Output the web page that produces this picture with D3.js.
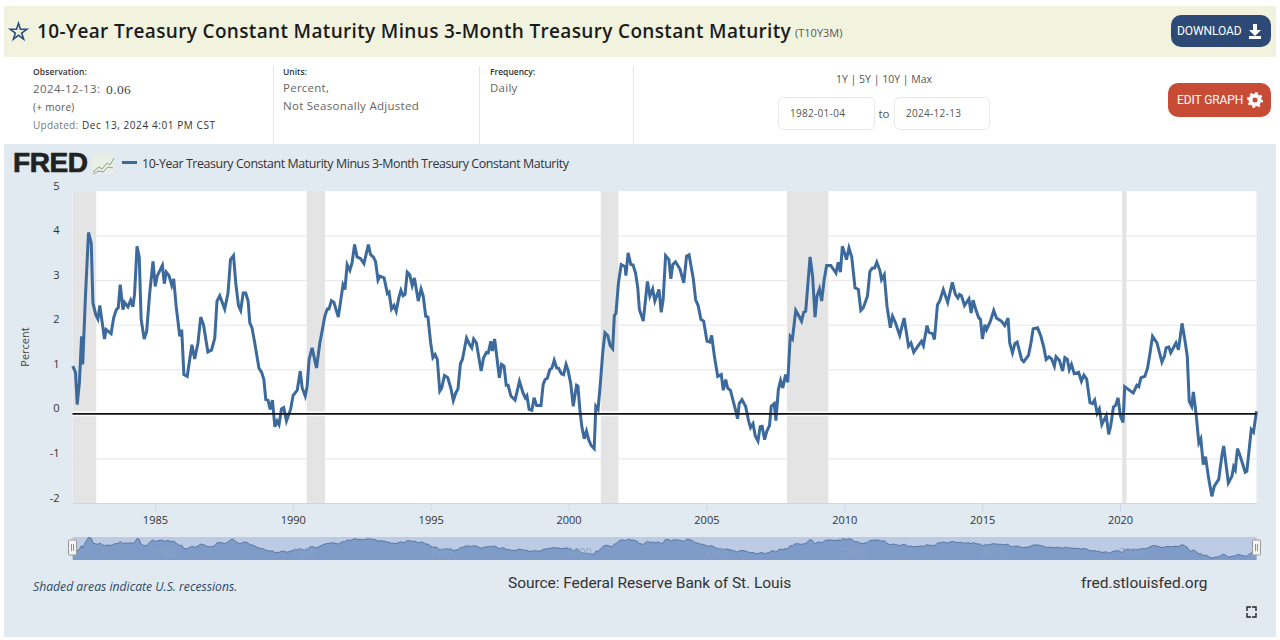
<!DOCTYPE html>
<html>
<head>
<meta charset="utf-8">
<title>T10Y3M</title>
<script src="https://cdn.jsdelivr.net/npm/d3@7"></script>
<style>
  html, body { margin: 0; padding: 0; background: #fff; }
  svg { display: block; font-family: "Open Sans", sans-serif; }
</style>
</head>
<body>
<div id="chart"></div>
<script>
// series, decimal years and percent
const years1982 = [1982.02,1982.12,1982.18,1982.26,1982.34,1982.38,1982.48,1982.59,1982.69,1982.75,1982.85,1982.93,1983.00,1983.09,1983.17,1983.23,1983.41,1983.50,1983.60,1983.67,1983.74,1983.84,1983.90,1984.02,1984.12,1984.20,1984.26,1984.35,1984.43,1984.50,1984.61,1984.70,1984.81,1984.93,1985.01,1985.08,1985.27,1985.34,1985.41,1985.51,1985.61,1985.68,1985.77,1985.90,1985.97,1986.05,1986.17,1986.34,1986.44,1986.56,1986.66,1986.76,1986.92,1987.05,1987.17,1987.25,1987.35,1987.53,1987.65,1987.74,1987.85,1987.93,1988.03,1988.11,1988.20,1988.29,1988.38,1988.44,1988.52,1988.62,1988.77,1988.87,1988.95,1989.02,1989.10,1989.18,1989.26,1989.35,1989.43,1989.50,1989.59,1989.67,1989.77,1989.92,1990.01,1990.16,1990.27,1990.34,1990.45,1990.52,1990.59,1990.70,1990.86,1990.98]
const values1982 = [1.07,0.93,0.21,0.70,1.74,1.11,2.64,4.07,3.83,2.49,2.23,2.13,2.43,2.04,1.68,1.89,1.80,2.15,2.34,2.38,2.90,2.34,2.50,2.40,2.55,2.40,2.68,3.76,3.52,2.12,1.68,1.85,2.71,3.42,2.86,3.09,3.33,2.92,3.18,3.10,2.88,3.03,2.41,1.74,1.89,0.88,0.84,1.55,1.23,1.59,2.17,2.00,1.39,1.43,1.70,2.53,2.65,2.35,2.71,3.46,3.55,2.94,2.43,2.32,2.71,2.71,2.53,2.04,1.93,1.59,1.03,0.93,0.77,0.32,0.31,0.10,0.31,-0.29,-0.16,-0.24,0.11,0.14,-0.16,0.10,0.41,0.53,0.96,0.58,0.40,0.62,1.22,1.48,1.03,1.59]

const years1991 = [1991.04,1991.16,1991.25,1991.31,1991.40,1991.49,1991.65,1991.77,1991.82,1991.89,1991.97,1992.07,1992.15,1992.24,1992.33,1992.46,1992.58,1992.74,1992.82,1992.92,1993.00,1993.09,1993.16,1993.31,1993.43,1993.49,1993.58,1993.67,1993.75,1993.85,1993.92,1994.00,1994.07,1994.15,1994.24,1994.33,1994.41,1994.55,1994.65,1994.73,1994.82,1994.90,1995.00,1995.08,1995.16,1995.24,1995.33,1995.40,1995.50,1995.62,1995.73,1995.82,1995.91,1995.99,1996.08,1996.15,1996.30,1996.39,1996.49,1996.56,1996.66,1996.83,1996.92,1997.02,1997.09,1997.18,1997.24,1997.32,1997.49,1997.57,1997.66,1997.74,1997.81,1997.91,1998.06,1998.22,1998.35,1998.43,1998.49,1998.57,1998.67,1998.75,1998.84,1999.00,1999.08,1999.15,1999.23,1999.32,1999.40,1999.48,1999.57,1999.64,1999.74,1999.82,1999.91,1999.98,2000.08,2000.17,2000.29,2000.34,2000.41,2000.48,2000.57,2000.65,2000.73,2000.82,2000.93,2000.99,2001.07,2001.14,2001.24,2001.32,2001.42,2001.51,2001.60,2001.66,2001.72,2001.81,2001.91,2002.05,2002.08,2002.16,2002.26,2002.34,2002.43,2002.51,2002.57]
const values1991 = [1.78,2.19,2.35,2.35,2.54,2.50,2.17,2.68,2.89,2.79,3.35,3.22,3.39,3.80,3.52,3.48,3.37,3.80,3.57,3.52,3.42,3.00,3.09,3.05,2.70,2.73,2.35,2.43,2.30,2.62,2.77,2.65,2.68,3.18,3.12,2.88,3.05,2.53,2.80,2.64,2.19,2.17,1.59,1.26,1.33,1.22,0.51,0.58,0.86,0.81,0.58,0.30,0.47,0.56,1.13,1.22,1.70,1.58,1.48,1.68,1.59,0.96,1.26,1.38,1.37,1.63,1.41,1.68,0.81,1.11,1.07,0.64,0.64,0.40,0.31,0.73,0.47,0.36,0.41,0.10,0.08,0.36,0.19,0.19,0.66,0.77,0.80,0.99,1.03,1.20,1.03,1.02,0.90,0.88,1.11,0.98,0.68,0.17,0.64,0.62,0.10,-0.28,-0.56,-0.39,-0.58,-0.71,-0.78,0.17,0.10,0.58,1.37,1.82,1.76,1.53,1.46,2.20,2.26,2.94,3.35,3.30,3.10,3.61,3.35,3.34,3.16,2.83,2.34]

const years2002 = [2002.71,2002.86,2002.95,2003.05,2003.13,2003.28,2003.36,2003.43,2003.52,2003.64,2003.71,2003.78,2003.88,2004.04,2004.18,2004.28,2004.37,2004.52,2004.61,2004.70,2004.80,2004.90,2005.02,2005.12,2005.19,2005.29,2005.41,2005.54,2005.61,2005.70,2005.77,2005.87,2006.05,2006.13,2006.19,2006.29,2006.42,2006.53,2006.60,2006.69,2006.77,2006.87,2006.95,2007.02,2007.11,2007.19,2007.29,2007.35,2007.46,2007.52,2007.61,2007.69,2007.77,2007.87,2007.95,2008.04,2008.12,2008.24,2008.36,2008.45,2008.53,2008.60,2008.76,2008.85,2008.94,2009.01,2009.10,2009.18,2009.27,2009.36,2009.51,2009.70,2009.78,2009.86,2009.93,2010.01,2010.08,2010.17,2010.27,2010.39,2010.51,2010.60,2010.69,2010.84,2010.93,2011.02,2011.10,2011.18,2011.29,2011.35,2011.45,2011.55,2011.67,2011.75,2011.86,2012.01,2012.17,2012.33,2012.42,2012.52,2012.67,2012.80,2012.87,2013.00,2013.07,2013.20,2013.27,2013.38,2013.46,2013.59,2013.75,2013.92,2014.03,2014.12,2014.18]
const values2002 = [2.08,2.97,2.64,2.80,2.53,2.79,2.28,2.56,3.55,3.46,3.03,3.35,3.41,3.25,2.94,3.54,3.57,3.05,2.56,2.43,2.12,2.08,1.63,1.61,1.76,1.29,0.84,0.88,0.53,0.77,0.58,0.53,0.10,-0.11,0.23,0.32,0.17,-0.16,-0.31,-0.22,-0.49,-0.61,-0.29,-0.28,-0.58,-0.39,-0.26,0.17,0.23,-0.15,0.55,0.75,0.58,0.88,0.71,1.74,1.68,2.32,2.19,2.08,2.28,2.30,3.52,3.09,2.17,2.64,2.80,2.53,3.01,3.33,3.33,3.16,3.40,3.18,3.76,3.61,3.46,3.72,3.52,2.83,2.79,2.32,2.38,2.64,3.20,3.27,3.27,3.40,3.22,3.01,3.12,2.41,1.93,2.19,2.04,1.76,2.15,1.52,1.59,1.38,1.52,1.63,1.53,1.98,1.83,1.80,1.67,2.45,2.53,2.79,2.50,2.95,2.68,2.60,2.68]

const years2014 = [2014.25,2014.36,2014.52,2014.60,2014.67,2014.79,2014.88,2014.94,2015.01,2015.10,2015.16,2015.30,2015.42,2015.52,2015.70,2015.82,2015.94,2016.00,2016.10,2016.19,2016.27,2016.43,2016.51,2016.68,2016.77,2016.85,2017.01,2017.13,2017.24,2017.32,2017.42,2017.52,2017.62,2017.68,2017.80,2017.92,2018.00,2018.09,2018.16,2018.24,2018.34,2018.50,2018.60,2018.69,2018.79,2018.91,2019.00,2019.08,2019.17,2019.25,2019.34,2019.50,2019.59,2019.66,2019.76,2019.84,2019.93,2020.01,2020.11,2020.17,2020.30,2020.48,2020.61,2020.68,2020.76,2020.90,2021.00,2021.09,2021.18,2021.34,2021.52,2021.61,2021.67,2021.77,2021.84,2022.03,2022.12,2022.25,2022.35,2022.44,2022.51,2022.60,2022.66,2022.76,2022.86,2022.93,2023.02,2023.10,2023.21,2023.33,2023.42,2023.58,2023.70,2023.76,2023.93,2024.06,2024.12,2024.18,2024.26,2024.36,2024.54,2024.60,2024.76,2024.84,2024.95]
const values2014 = [2.65,2.43,2.58,2.26,2.55,2.30,2.15,2.12,1.68,2.00,1.89,2.08,2.32,2.15,2.08,1.98,2.15,1.59,1.37,1.58,1.61,1.22,1.17,1.31,1.59,1.91,1.93,1.74,1.48,1.22,1.28,1.23,1.07,1.28,1.20,0.96,1.26,1.22,0.99,1.11,0.90,0.93,0.73,0.87,0.78,0.25,0.23,0.31,0.01,0.11,-0.24,-0.04,-0.46,-0.28,0.15,0.19,0.36,-0.04,-0.19,0.61,0.55,0.47,0.64,0.61,0.81,0.84,1.03,1.37,1.74,1.59,1.16,1.29,1.48,1.50,1.37,1.59,1.44,2.03,1.67,1.29,0.28,0.17,0.49,-0.01,-0.65,-0.56,-1.14,-0.96,-1.43,-1.85,-1.62,-1.47,-0.91,-0.72,-1.55,-1.40,-1.19,-1.26,-0.78,-0.95,-1.31,-1.29,-0.35,-0.41,0.06]

const recessionStart = [1982.01, 1990.5, 2001.17, 2007.92, 2020.08]
const recessionEnd = [1982.87, 1991.17, 2001.81, 2009.42, 2020.24]

const yearTicks = [1985, 1990, 1995, 2000, 2005, 2010, 2015, 2020]
const percentTicks = [-2, -1, 0, 1, 2, 3, 4, 5]

const seriesName = '10-Year Treasury Constant Maturity Minus 3-Month Treasury Constant Maturity'

const width = 1280
const height = 640
const plot = { left: 72.5, right: 1256.5, top: 191, bottom: 503 }
const nav = { top: 537, bottom: 560 }
const lineColor = '#3c6a9c'

const series = d3.zip(
  [...years1982, ...years1991, ...years2002, ...years2014],
  [...values1982, ...values1991, ...values2002, ...values2014]
)

const svg = d3.select('#chart').append('svg')
  .attr('width', width)
  .attr('height', height)

const label = (x, y, str, o = {}) => svg.append('text')
  .attr('x', x)
  .attr('y', y)
  .attr('font-size', o.size || 11)
  .attr('font-weight', o.weight || 400)
  .attr('font-style', o.style || 'normal')
  .attr('font-family', o.family || null)
  .attr('fill', o.fill || '#333')
  .attr('text-anchor', o.anchor || 'start')
  .attr('letter-spacing', o.spacing || null)
  .text(str)

const box = (x, y, w, h, fill, o = {}) => svg.append('rect')
  .attr('x', x)
  .attr('y', y)
  .attr('width', w)
  .attr('height', h)
  .attr('rx', o.rx || 0)
  .attr('fill', fill)
  .attr('stroke', o.stroke || 'none')

// title band
box(4, 6, 1272, 51, '#f1f3df')
svg.append('path')
  .attr('d', d3.symbol(d3.symbolStar, 85)())
  .attr('transform', 'translate(18.5, 32)')
  .attr('fill', 'none')
  .attr('stroke', '#2c4f80')
  .attr('stroke-width', 1.6)
label(37, 38, seriesName, { size: 19, weight: 600, fill: '#1b1b1b', spacing: 0.34 })
label(795, 37, '(T10Y3M)', { size: 11, fill: '#555' })

box(1171, 15, 100, 32, '#2c4a75', { rx: 10 })
label(1177, 35, 'DOWNLOAD', { size: 12, fill: '#fff', family: 'Roboto', spacing: -0.1 })
svg.append('path')
  .attr('d', 'M1253 24h4v6h4l-6 6-6-6h4zM1249 36h12v3h-12z')
  .attr('fill', '#fff')

// info row
for (const x of [273, 479, 633]) {
  box(x, 66, 1, 78, '#e6e6e6')
}
label(33, 75, 'Observation:', { size: 8.5, weight: 600, fill: '#333', spacing: 0.1 })
label(33, 93, '2024-12-13:', { size: 11.5, fill: '#666', spacing: 0.4 })
label(106, 94, '0.06', { size: 13.5, fill: '#444', family: 'Liberation Serif', spacing: 0.4 })
label(33, 111, '(+ more)', { size: 10, fill: '#555', spacing: 0.3 })
label(33, 129, 'Updated:', { size: 10, fill: '#777', spacing: 0.3 })
label(82, 129, 'Dec 13, 2024 4:01 PM CST', { size: 10, fill: '#333', spacing: 0.58 })
label(283, 75, 'Units:', { size: 8.5, weight: 600 })
label(283, 92, 'Percent,', { size: 11.5, fill: '#666', spacing: 0.25 })
label(283, 110, 'Not Seasonally Adjusted', { size: 11.5, fill: '#666', spacing: 0.28 })
label(490, 75, 'Frequency:', { size: 8.5, weight: 600 })
label(490, 92, 'Daily', { size: 11.5, fill: '#666', spacing: 0.25 })
label(884, 83, '1Y | 5Y | 10Y | Max', { size: 10.5, fill: '#555', anchor: 'middle' })
box(778.5, 97.5, 96, 32, '#fff', { rx: 5, stroke: '#e8e8e8' })
box(894.5, 97.5, 95, 32, '#fff', { rx: 5, stroke: '#e8e8e8' })
label(790, 117, '1982-01-04', { size: 10, fill: '#555', spacing: 0.3 })
label(906, 117, '2024-12-13', { size: 10, fill: '#555', spacing: 0.3 })
label(884, 118, 'to', { size: 11.5, fill: '#555', anchor: 'middle' })

box(1168, 83, 103, 34, '#c84b36', { rx: 10 })
label(1177, 104, 'EDIT GRAPH', { size: 12, fill: '#fff', family: 'Roboto', spacing: -0.1 })
svg.append('circle')
  .attr('cx', 1255).attr('cy', 100).attr('r', 4.5)
  .attr('fill', 'none').attr('stroke', '#fff').attr('stroke-width', 4)
svg.append('circle')
  .attr('cx', 1255).attr('cy', 100).attr('r', 7)
  .attr('fill', 'none').attr('stroke', '#fff').attr('stroke-width', 2).attr('stroke-dasharray', '2.5 3')

// chart panel
box(4, 144, 1272, 493, '#e1e9f1')
label(13, 172, 'FRED', { size: 28, weight: 700, fill: '#222', family: 'Liberation Sans', spacing: -0.4 })
  .attr('stroke', '#222').attr('stroke-width', 0.7)
box(92, 154, 22, 20, '#e8eee4')
svg.append('path')
  .attr('d', 'M93 172l6-5 3 2 5-6 3 2 4-7')
  .attr('fill', 'none').attr('stroke', '#8aa680').attr('stroke-width', 1)
svg.append('path')
  .attr('d', 'M93 174l6-3 4 1 5-5 5 1')
  .attr('fill', 'none').attr('stroke', '#9a9a9a').attr('stroke-width', 1)
box(122, 161, 15, 3, lineColor)
label(142, 168, seriesName, { size: 12.4, fill: '#333', spacing: -0.41 })

// scales
const x = d3.scaleLinear()
  .domain([1982.01, 2024.95])
  .range([plot.left, plot.right])
const y = d3.scaleLinear()
  .domain([-2, 5])
  .range([plot.bottom, plot.top])

box(plot.left, plot.top, plot.right - plot.left, plot.bottom - plot.top, '#fff')

const yAxis = svg.append('g')
  .attr('transform', `translate(${plot.left}, 0)`)
  .call(d3.axisLeft(y)
    .tickValues(percentTicks)
    .tickSize(-(plot.right - plot.left))
    .tickPadding(13)
    .tickFormat(d => String(d))
  )
yAxis.select('.domain').remove()
yAxis.selectAll('.tick line')
  .attr('stroke', '#e6e6e6')
  .attr('display', d => (d === 5 || d === -2) ? 'none' : null)
yAxis.selectAll('.tick text')
  .attr('dy', -2)
  .attr('font-size', 11)
  .attr('font-family', 'Open Sans')
  .attr('fill', '#333')

svg.append('g')
  .selectAll('rect')
  .data(d3.zip(recessionStart, recessionEnd))
  .join('rect')
  .attr('x', d => x(d[0]))
  .attr('y', plot.top)
  .attr('width', d => x(d[1]) - x(d[0]))
  .attr('height', plot.bottom - plot.top)
  .attr('fill', '#e4e4e4')

const xAxis = svg.append('g')
  .attr('transform', `translate(0, ${plot.bottom})`)
  .call(d3.axisBottom(x)
    .tickValues(yearTicks)
    .tickSizeInner(8)
    .tickSizeOuter(0)
    .tickPadding(5)
    .tickFormat(d3.format('d'))
  )
xAxis.select('.domain').attr('stroke', '#ccd6eb')
xAxis.selectAll('.tick line').attr('stroke', '#ccd6eb')
xAxis.selectAll('.tick text')
  .attr('font-size', 11)
  .attr('font-family', 'Open Sans')
  .attr('fill', '#333')

label(29, 347, 'Percent', { size: 11, fill: '#444', anchor: 'middle' })
  .attr('transform', 'rotate(-90 29 347)')

// zero line
svg.append('line')
  .attr('x1', plot.left).attr('x2', plot.right)
  .attr('y1', y(0)).attr('y2', y(0))
  .attr('stroke', '#fff').attr('stroke-width', 5).attr('opacity', 0.8)

const line = d3.line().x(d => x(d[0])).y(d => y(d[1]))
svg.append('path')
  .datum(series)
  .attr('d', line)
  .attr('fill', 'none')
  .attr('stroke', lineColor)
  .attr('stroke-width', 3)
  .attr('stroke-linejoin', 'miter')

svg.append('line')
  .attr('x1', plot.left).attr('x2', plot.right)
  .attr('y1', y(0)).attr('y2', y(0))
  .attr('stroke', '#111').attr('stroke-width', 1.6)

// navigator
const yNav = d3.scaleLinear()
  .domain([-2.4, 4.2])
  .range([nav.bottom, nav.top])
box(plot.left, nav.top, plot.right - plot.left, nav.bottom - nav.top, '#bccbe3')
svg.append('path')
  .datum(series)
  .attr('d', d3.area().x(d => x(d[0])).y0(nav.bottom).y1(d => yNav(d[1])))
  .attr('fill', '#7f9cc8')
svg.append('path')
  .datum(series)
  .attr('d', d3.line().x(d => x(d[0])).y(d => yNav(d[1])))
  .attr('fill', 'none')
  .attr('stroke', '#44689c')
  .attr('stroke-width', 0.8)
svg.append('g')
  .selectAll('text')
  .data(yearTicks)
  .join('text')
  .attr('x', d => x(d) + 11)
  .attr('y', 556)
  .attr('text-anchor', 'middle')
  .attr('font-size', 10.5)
  .attr('fill', '#8aa3c9')
  .text(d => d)
for (const hx of x.range()) {
  box(hx - 4, 540, 8, 15, '#f4f4f4', { rx: 1, stroke: '#999' })
  box(hx - 1.5, 544, 0.8, 7, '#777')
  box(hx + 0.7, 544, 0.8, 7, '#777')
}

// footer
label(33, 591, 'Shaded areas indicate U.S. recessions.', { size: 12.2, style: 'italic', fill: '#2e4a68' })
label(508, 588, 'Source: Federal Reserve Bank of St. Louis', { size: 15.5, fill: '#333', family: 'Roboto', spacing: -0.05 })
label(1081, 588, 'fred.stlouisfed.org', { size: 15.5, fill: '#333', family: 'Roboto' })
svg.append('path')
  .attr('d', 'M1247 611v-4h4M1252 607h4v4M1256 613v4h-4M1251 617h-4v-4')
  .attr('fill', 'none').attr('stroke', '#222').attr('stroke-width', 1.4)
</script>
</body>
</html>
